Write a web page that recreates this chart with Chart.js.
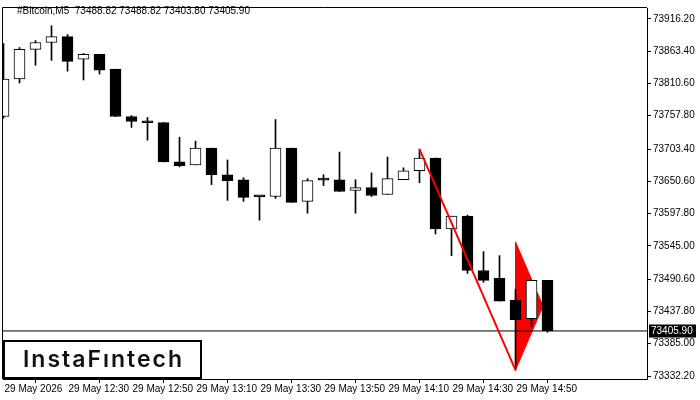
<!DOCTYPE html>
<html>
<head>
<meta charset="utf-8">
<script src="https://cdn.jsdelivr.net/npm/chart.js@4.4.1/dist/chart.umd.min.js"></script>
<style>
  html, body { margin: 0; padding: 0; background: #fff; }
</style>
</head>
<body>
<canvas id="chart" width="700" height="400"></canvas>
<script>
// 5 minute candles, 29 May 2026
const times = ["12:10","12:15","12:20","12:25","12:30","12:35","12:40","12:45","12:50","12:55",
  "13:00","13:05","13:10","13:15","13:20","13:25","13:30","13:35","13:40","13:45",
  "13:50","13:55","14:00","14:05","14:10","14:15","14:20","14:25","14:30","14:35",
  "14:40","14:45","14:50","14:55","15:00"];
const opens = [73756.5, 73817.8, 73866.2, 73877.5, 73887.2, 73850.1, 73858.1, 73833.9, 73756.5, 73746.8,
  73746.8, 73682.3, 73677.4, 73704.9, 73661.3, 73653.2, 73625.8, 73625.8, 73704.9, 73617.8,
  73653.2, 73653.2, 73635.5, 73640.3, 73629.0, 73653.2, 73667.8, 73688.7, 73572.6, 73593.6,
  73504.8, 73491.9, 73456.4, 73425.8, 73488.82];
const highs = [73875.9, 73869.4, 73880.7, 73904.9, 73890.4, 73859.7, 73858.1, 73833.9, 73758.1, 73754.9,
  73746.8, 73722.6, 73716.2, 73704.9, 73685.5, 73656.5, 73625.8, 73751.6, 73704.9, 73654.9,
  73661.3, 73698.4, 73653.2, 73664.5, 73690.3, 73672.6, 73703.3, 73688.7, 73593.6, 73595.2,
  73535.5, 73529.0, 73474.2, 73488.82, 73488.82];
const lows = [73754.0, 73811.3, 73840.4, 73848.4, 73830.7, 73816.2, 73825.9, 73756.5, 73738.7, 73717.8,
  73682.3, 73674.2, 73677.4, 73645.2, 73619.4, 73617.8, 73587.1, 73622.6, 73616.1, 73598.4,
  73643.6, 73633.9, 73598.4, 73625.8, 73629.0, 73653.2, 73648.4, 73564.5, 73529.0, 73500.0,
  73485.5, 73454.8, 73341.9, 73412.9, 73403.80];
const closes = [73817.8, 73866.2, 73877.5, 73887.2, 73846.8, 73858.1, 73832.3, 73756.5, 73748.4, 73746.3,
  73682.3, 73675.8, 73704.9, 73661.3, 73651.6, 73624.2, 73625.3, 73704.9, 73616.1, 73651.6,
  73652.5, 73633.9, 73640.3, 73627.4, 73654.9, 73667.8, 73688.7, 73572.6, 73593.6, 73504.8,
  73488.7, 73454.8, 73424.2, 73488.82, 73405.90];

const yTicks = [73916.20, 73863.40, 73810.60, 73757.80, 73703.40, 73650.60, 73597.80,
  73545.00, 73490.60, 73437.80, 73385.00, 73332.20];
const xTickIdx = [0, 4, 8, 12, 16, 20, 24, 28, 32];
const xTickLabels = ["29 May 2026", "29 May 12:30", "29 May 12:50", "29 May 13:10", "29 May 13:30",
  "29 May 13:50", "29 May 14:10", "29 May 14:30", "29 May 14:50"];

// bearish pennant: pole and flag
const poleX = [26, 32];
const poleY = [73703.3, 73341.9];
const flagX = [32, 33.72, 32, 32];
const flagY = [73551.6, 73446.7, 73341.9, 73551.6];

const titleText = "#Bitcoin,M5  73488.82 73488.82 73403.80 73405.90";
const lastPrice = closes[closes.length - 1];

const bodyColors = opens.map((o, i) => closes[i] > o ? "#ffffff" : "#000000");

const overlay = {
  id: "overlay",
  afterDraw(chart) {
    const ctx = chart.ctx;
    const a = chart.chartArea;
    const y = chart.scales.y;
    ctx.save();
    // frame top and left
    ctx.strokeStyle = "#000";
    ctx.lineWidth = 1;
    ctx.beginPath();
    ctx.moveTo(a.left - 0.5, a.bottom);
    ctx.lineTo(a.left - 0.5, a.top - 0.5);
    ctx.lineTo(a.right, a.top - 0.5);
    ctx.stroke();

    // title
    ctx.fillStyle = "#000";
    ctx.font = "10px 'Liberation Sans'";
    ctx.textBaseline = "middle";
    ctx.textAlign = "left";
    ctx.fillText(titleText, 17, 11);

    // current price label
    const py = y.getPixelForValue(lastPrice);
    ctx.fillStyle = "#000";
    ctx.fillRect(649, Math.round(py) - 6.5, 47, 13);
    ctx.fillStyle = "#fff";
    ctx.font = "10px 'Liberation Sans'";
    ctx.fillText(lastPrice.toFixed(2), 651, py + 0.5);

    // logo box
    ctx.fillStyle = "#fff";
    ctx.fillRect(3, 340, 198, 38);
    ctx.strokeStyle = "#000";
    ctx.lineWidth = 2;
    ctx.strokeRect(4, 341, 197, 37);
    ctx.fillStyle = "#111";
    ctx.font = "600 23px Inter";
    ctx.textBaseline = "alphabetic";
    const logo = "InstaF\u0131ntech";
    const w = ctx.measureText(logo).width;
    ctx.letterSpacing = Math.max(0, (159 - w) / 11).toFixed(2) + "px";
    ctx.fillText(logo, 23, 367);
    ctx.restore();
  }
};

new Chart(document.getElementById("chart"), {
  type: "bar",
  data: {
    datasets: [
      {
        type: "line",
        data: flagX.map((x, i) => ({ x: x, y: flagY[i] })),
        borderColor: "#ff0000",
        backgroundColor: "#ff0000",
        borderWidth: 1,
        fill: "shape",
        pointRadius: 0,
        tension: 0,
        order: 5
      },
      {
        type: "line",
        data: [{ x: -2, y: lastPrice }, { x: 50, y: lastPrice }],
        borderColor: "#000",
        borderWidth: 1,
        pointRadius: 0,
        order: 4
      },
      {
        data: times.map((t, i) => ({ x: i, y: [lows[i], highs[i]] })),
        backgroundColor: "#000",
        barThickness: 1,
        grouped: false,
        order: 3
      },
      {
        data: times.map((t, i) => ({ x: i, y: [opens[i], closes[i]] })),
        backgroundColor: bodyColors,
        borderColor: "#000",
        borderWidth: 1,
        borderSkipped: false,
        barThickness: 11,
        minBarLength: 2,
        grouped: false,
        order: 2
      },
      {
        type: "line",
        data: poleX.map((x, i) => ({ x: x, y: poleY[i] })),
        borderColor: "#ff0000",
        borderWidth: 2,
        pointRadius: 0,
        order: 1
      }
    ]
  },
  options: {
    responsive: false,
    animation: false,
    layout: { padding: { left: 3, top: 3, right: 0, bottom: 0 } },
    plugins: { legend: { display: false }, tooltip: { enabled: false } },
    scales: {
      x: {
        type: "linear",
        offset: false,
        min: -0.03125,
        max: 40.21875,
        afterBuildTicks: s => { s.ticks = xTickIdx.map(v => ({ value: v })); },
        afterFit: s => { s.height = 21; },
        grid: { drawOnChartArea: false, tickLength: 4, color: "#000" },
        border: { color: "#000", width: 1 },
        ticks: {
          autoSkip: false,
          maxRotation: 0,
          align: "start",
          labelOffset: 1,
          padding: 0,
          color: "#000",
          font: { family: "'Liberation Sans'", size: 10 },
          callback: v => xTickLabels[xTickIdx.indexOf(v)]
        }
      },
      y: {
        position: "right",
        min: 73327.36,
        max: 73933.95,
        afterBuildTicks: s => { s.ticks = yTicks.map(v => ({ value: v })); },
        afterFit: s => { s.width = 53; },
        grid: { drawOnChartArea: false, tickLength: 4, color: "#000" },
        border: { color: "#000", width: 1 },
        ticks: {
          autoSkip: false,
          padding: 2,
          color: "#000",
          font: { family: "'Liberation Sans'", size: 10 },
          callback: v => v.toFixed(2)
        }
      }
    }
  },
  plugins: [overlay]
});
</script>
</body>
</html>
